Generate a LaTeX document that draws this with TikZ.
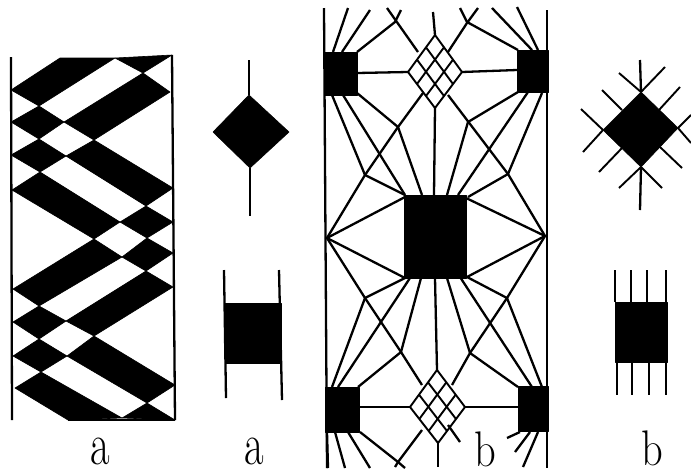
\documentclass[tikz,border=0pt]{standalone}
\usepackage{amsmath,amssymb,amsfonts}
\usepackage{tikz}
\usetikzlibrary{calc}

\tikzset{
  ink/.style={line width=2.3pt,black},
  thread/.style={line width=1.9pt,black},
  blob/.style={fill=black,draw=black,line width=0.6pt,line join=round},
  letter/.style={font=\fontsize{50}{50}\selectfont,xscale=0.85,inner sep=0pt},
  lettertall/.style={font=\fontsize{50}{50}\selectfont,xscale=0.85,yscale=1.2,inner sep=0pt,anchor=base}
}

\begin{document}
\begin{tikzpicture}[x=1pt,y=-1pt]
    \useasboundingbox (0,0) rectangle (691,475);

    % band pattern, left
    \draw[ink] (11,57) -- (12,420);
    \draw[ink] (172,55) -- (175,420);
    \draw[ink] (68,420) -- (175,420);
    \fill[blob] (11,90) -- (60,58) -- (115,58) -- (39,106) -- cycle;
    \fill[blob] (115,58) -- (172,55) -- (143,73) -- cycle;
    \fill[blob] (143,73) -- (170,92) -- (94,140) -- (64,122) -- cycle;
    \fill[blob] (11,122) -- (39,106) -- (64,122) -- (39,139) -- cycle;
    \fill[blob] (11,155) -- (39,139) -- (66,156) -- (40,172) -- cycle;
    \fill[blob] (66,156) -- (94,140) -- (173,188) -- (146,206) -- cycle;
    \fill[blob] (12,190) -- (40,172) -- (120,222) -- (94,239) -- cycle;
    \fill[blob] (120,222) -- (146,206) -- (173,222) -- (147,238) -- cycle;
    \fill[blob] (13,289) -- (94,239) -- (122,257) -- (39,306) -- cycle;
    \fill[blob] (122,257) -- (147,238) -- (173,253) -- (146,271) -- cycle;
    \fill[blob] (146,271) -- (173,287) -- (94,336) -- (66,321) -- cycle;
    \fill[blob] (13,322) -- (39,306) -- (66,321) -- (39,339) -- cycle;
    \fill[blob] (13,356) -- (39,339) -- (67,356) -- (41,372) -- cycle;
    \fill[blob] (67,356) -- (94,336) -- (175,385) -- (147,403) -- cycle;
    \fill[blob] (15,388) -- (41,372) -- (122,418) -- (68,420) -- cycle;
    \fill[blob] (122,418) -- (147,403) -- (175,420) -- cycle;

    % small motifs a
    \fill[blob] (213,132) -- (249,95) -- (289,132) -- (250,168) -- cycle;
    \draw[ink] (249,60) -- (249,95);
    \draw[ink] (250,168) -- (250,216);
    \fill[blob] (225,303) rectangle (281,363);
    \draw[ink] (224,270) -- (226,398);
    \draw[ink] (279,270) -- (282,400);

    % main panel b
    \draw[ink] (324,8) -- (327,468);
    \draw[ink] (547,10) -- (547,468);
    \fill[blob] (324,52) rectangle (357,95);
    \fill[blob] (517,50) rectangle (548,92);
    \fill[blob] (404,195) rectangle (466,278);
    \fill[blob] (325,387) rectangle (359,432);
    \fill[blob] (518,386) rectangle (548,431);

    \coordinate (upT) at (435,35);  \coordinate (upL) at (408,72);
    \coordinate (upR) at (462,72);  \coordinate (upB) at (435,108);
    \coordinate (loT) at (437,370); \coordinate (loL) at (410,407);
    \coordinate (loR) at (465,407); \coordinate (loB) at (438,443);
    \foreach \n in {up,lo}{
        \foreach \i in {0,1,2,3}{
            \draw[thread] ($(\n L)!\i/3!(\n T)$) -- ($(\n B)!\i/3!(\n R)$);
            \draw[thread] ($(\n L)!\i/3!(\n B)$) -- ($(\n T)!\i/3!(\n R)$);
        }
    }

    \coordinate (west) at (327,238);
    \coordinate (east) at (545,236);
    \coordinate (ul) at (398,127);
    \coordinate (ur) at (468,122);
    \coordinate (ml) at (365,175);
    \coordinate (mr) at (508,174);
    \coordinate (dl) at (365,298);
    \coordinate (dr) at (507,298);
    \coordinate (kl) at (401,352);
    \coordinate (kr) at (470,353);

    % above the top row
    \draw[ink] (333,52) -- (348,8);
    \draw[ink] (342,52) -- (370,10);
    \draw[ink] (357,52) -- (395,22) -- (401,10);
    \draw[ink] (387,8) -- (418,52);
    \draw[ink] (478,8) -- (467,23) -- (448,52);
    \draw[ink] (460,8) -- (467,22) -- (518,50);
    \draw[ink] (492,8) -- (532,50);
    \draw[ink] (517,7) -- (538,50);
    \draw[ink] (433,12) -- (upT);
    \draw[ink] (357,73) -- (upL);
    \draw[ink] (upR) -- (517,70);

    % top row down to the centre
    \draw[ink] (332,95) -- (ml) -- (405,195);
    \draw[ink] (343,95) -- (405,195);
    \draw[ink] (357,93) -- (ul) -- (422,195);
    \draw[ink] (423,93) -- (ul) -- (ml) -- (west);
    \draw[ink] (upB) -- (434,195);
    \draw[ink] (448,95) -- (mr) -- (east);
    \draw[ink] (518,92) -- (ur) -- (447,195);
    \draw[ink] (528,92) -- (458,195);
    \draw[ink] (542,93) -- (mr) -- (468,197);
    \draw[ink] (405,197) -- (west) -- (405,278);
    \draw[ink] (466,198) -- (east) -- (467,277);

    % centre down to the bottom row
    \draw[ink] (west) -- (dl) -- (kl) -- (422,385);
    \draw[ink] (east) -- (dr) -- (kr) -- (452,385);
    \draw[ink] (405,278) -- (dl) -- (332,387);
    \draw[ink] (410,278) -- (338,387);
    \draw[ink] (421,278) -- (kl) -- (358,387);
    \draw[ink] (435,278) -- (loT);
    \draw[ink] (447,278) -- (kr) -- (518,387);
    \draw[ink] (460,277) -- (532,387);
    \draw[ink] (467,277) -- (dr) -- (542,387);
    \draw[ink] (359,407) -- (loL);
    \draw[ink] (loR) -- (518,407);

    % under the bottom row
    \draw[ink] (327,432) -- (328,468);
    \draw[ink] (335,432) -- (345,468);
    \draw[ink] (348,432) -- (370,468);
    \draw[ink] (360,432) -- (398,462) -- (405,468);
    \draw[ink] (422,430) -- (398,462) -- (395,467);
    \draw[ink] (loB) -- (438,467);
    \draw[ink] (448,425) -- (460,442);
    \draw[ink] (507,438) -- (520,432);
    \draw[ink] (515,452) -- (530,432);
    \draw[ink] (523,467) -- (538,432);

    % small motifs b
    \fill[blob] (603,130) -- (641,92) -- (678,128) -- (641,167) -- cycle;
    \draw[ink] (640,60) -- (641,92);
    \draw[ink] (641,167) -- (640,210);
    \foreach \ax/\ay/\bx/\by in {
        641/92/665/67, 641/92/619/73, 622/110/602/90, 659/110/680/87,
        603/130/581/109, 603/130/583/152, 622/148/599/172, 660/147/682/168,
        641/167/619/188, 641/167/662/188, 678/128/691/143, 678/128/691/115}{
        \draw[thread] (\ax,\ay) -- (\bx,\by);
    }
    \fill[blob] (615,302) rectangle (667,362);
    \foreach \t/\b in {615/617,631/632,647/649,666/666}{
        \draw[thread] (\t,270) -- (\t,302);
        \draw[thread] (\b,362) -- (\b,395);
    }

    % letters
    \node[lettertall] (la1) at (100,464) {a};
    \node[lettertall] (la2) at (254,464) {a};
    \node[letter] (lb1) at (485,449) {b};
    \node[letter] (lb2) at (652,448) {b};
\end{tikzpicture}
\end{document}
